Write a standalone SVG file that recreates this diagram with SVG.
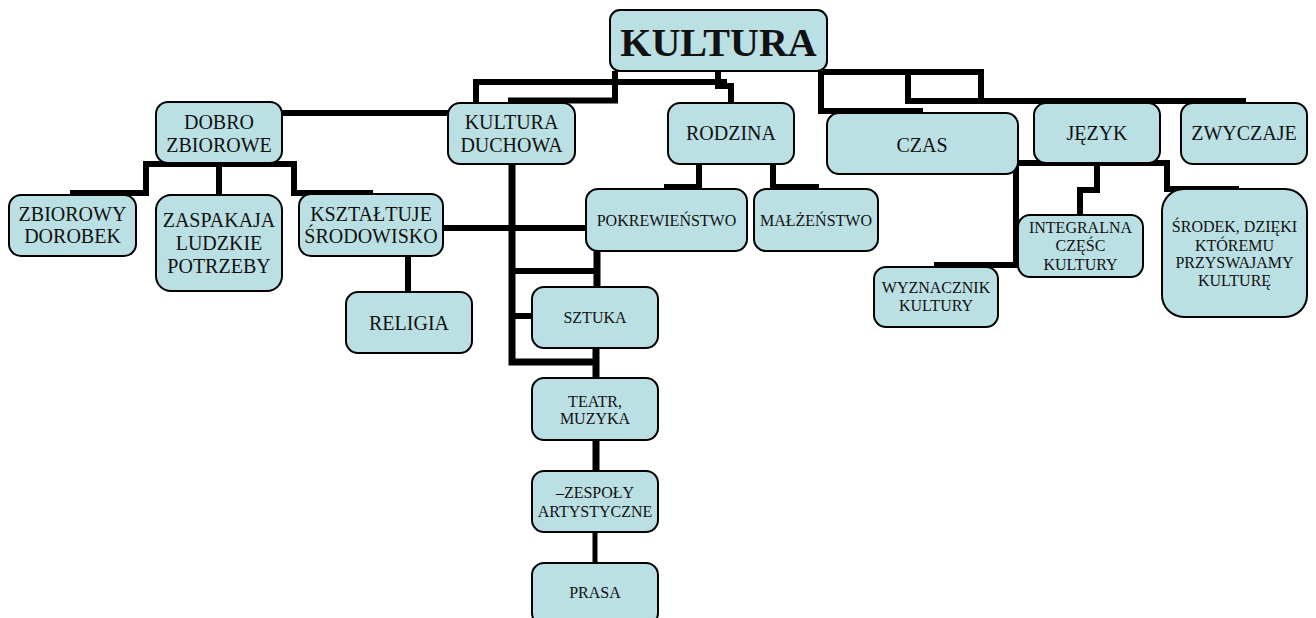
<svg xmlns="http://www.w3.org/2000/svg" width="1316" height="618" viewBox="0 0 1316 618">
<style>
.n{fill:#bbe0e3;stroke:#000;stroke-width:2}
.t{font-family:"Liberation Serif","Times New Roman",serif;fill:#111;text-anchor:middle}
.l{font-size:20px}
.s{font-size:16px}
.c path{fill:none;stroke:#000;stroke-width:6;stroke-linejoin:miter;stroke-linecap:butt}
</style>
<rect width="1316" height="618" fill="#fff"/>
<g class="c" id="connectors">
<path d="M476,103 V82 H727"/>
<path d="M718,71 V86 H731 V103"/>
<path d="M615,71 V100.5 H508"/>
<path d="M282,113 H448"/>
<path d="M821,71 V111 H923"/>
<path d="M823,72 H981 V101 M908,72 V101 H1246"/>
<path d="M70,193 H146 V164 H294 V193 H373 M219,164 V195"/>
<path d="M443,228 H586"/>
<path d="M408,256 V292"/>
<path d="M512,163 V362 H597" style="stroke-width:7"/>
<path d="M512,271 H597 M512,316 H532"/>
<path d="M597,251 V287 M596,348 V378 M596,440 V471" style="stroke-width:7"/>
<path d="M595,532 V563" style="stroke-width:5"/>
<path d="M664,187 H699 V164 M773,164 V187 H819"/>
<path d="M1016,163 H1167 V189 H1239 M1016,163 V265 H934 M1097,163 V190 H1080 V215"/>
</g>
<g id="kultura"><rect class="n" x="610" y="10" width="217" height="61" rx="10"/><text class="t" x="718.5" y="56" style="font-size:40px;font-weight:bold">KULTURA</text></g>
<g id="dobro"><rect class="n" x="156" y="102" width="126" height="61" rx="12"/><text class="t l" x="219" y="129">DOBRO</text><text class="t l" x="219" y="152">ZBIOROWE</text></g>
<g id="duchowa"><rect class="n" x="448" y="103" width="127" height="61" rx="12"/><text class="t l" x="511.5" y="129">KULTURA</text><text class="t l" x="511.5" y="152">DUCHOWA</text></g>
<g id="rodzina"><rect class="n" x="668" y="103" width="126" height="61" rx="12"/><text class="t l" x="731" y="140">RODZINA</text></g>
<g id="czas"><rect class="n" x="827" y="113" width="191" height="61" rx="12"/><text class="t l" x="922" y="152">CZAS</text></g>
<g id="jezyk"><rect class="n" x="1034" y="103" width="126" height="60" rx="12"/><text class="t l" x="1097" y="140">JĘZYK</text></g>
<g id="zwyczaje"><rect class="n" x="1181" y="103" width="126" height="61" rx="12"/><text class="t l" x="1244" y="140">ZWYCZAJE</text></g>
<g id="zbiorowy"><rect class="n" x="9" y="195" width="127" height="61" rx="12"/><text class="t l" x="72.5" y="221">ZBIOROWY</text><text class="t l" x="72.5" y="243">DOROBEK</text></g>
<g id="zaspakaja"><rect class="n" x="156" y="195" width="126" height="96" rx="15"/><text class="t l" x="219" y="227">ZASPAKAJA</text><text class="t l" x="219" y="250">LUDZKIE</text><text class="t l" x="219" y="273">POTRZEBY</text></g>
<g id="ksztaltuje"><rect class="n" x="299" y="194" width="144" height="62" rx="12"/><text class="t l" x="371" y="221">KSZTAŁTUJE</text><text class="t l" x="371" y="243">ŚRODOWISKO</text></g>
<g id="religia"><rect class="n" x="346" y="292" width="126" height="61" rx="12"/><text class="t l" x="409" y="330">RELIGIA</text></g>
<g id="pokrewienstwo"><rect class="n" x="586" y="189" width="161" height="62" rx="12"/><text class="t s" x="666.5" y="226">POKREWIEŃSTWO</text></g>
<g id="malzenstwo"><rect class="n" x="754" y="189" width="124" height="62" rx="12"/><text class="t s" x="816" y="226">MAŁŻEŃSTWO</text></g>
<g id="sztuka"><rect class="n" x="532" y="287" width="126" height="61" rx="12"/><text class="t s" x="595" y="323">SZTUKA</text></g>
<g id="teatr"><rect class="n" x="532" y="378" width="126" height="62" rx="12"/><text class="t s" x="595" y="407">TEATR,</text><text class="t s" x="595" y="424">MUZYKA</text></g>
<g id="zespoly"><rect class="n" x="532" y="471" width="126" height="61" rx="12"/><text class="t s" x="595" y="498">–ZESPOŁY</text><text class="t s" x="595" y="517">ARTYSTYCZNE</text></g>
<g id="prasa"><rect class="n" x="532" y="563" width="126" height="62" rx="12"/><text class="t s" x="595" y="598">PRASA</text></g>
<g id="wyznacznik"><rect class="n" x="874" y="267" width="124" height="60" rx="12"/><text class="t s" x="936" y="293">WYZNACZNIK</text><text class="t s" x="936" y="311">KULTURY</text></g>
<g id="integralna"><rect class="n" x="1018" y="215" width="125" height="62" rx="12"/><text class="t s" x="1080.5" y="233">INTEGRALNA</text><text class="t s" x="1080.5" y="251">CZĘŚC</text><text class="t s" x="1080.5" y="270">KULTURY</text></g>
<g id="srodek"><rect class="n" x="1162" y="189" width="145" height="128" rx="22"/><text class="t s" x="1234.5" y="232">ŚRODEK, DZIĘKI</text><text class="t s" x="1234.5" y="251">KTÓREMU</text><text class="t s" x="1234.5" y="268">PRZYSWAJAMY</text><text class="t s" x="1234.5" y="286">KULTURĘ</text></g>
</svg>
